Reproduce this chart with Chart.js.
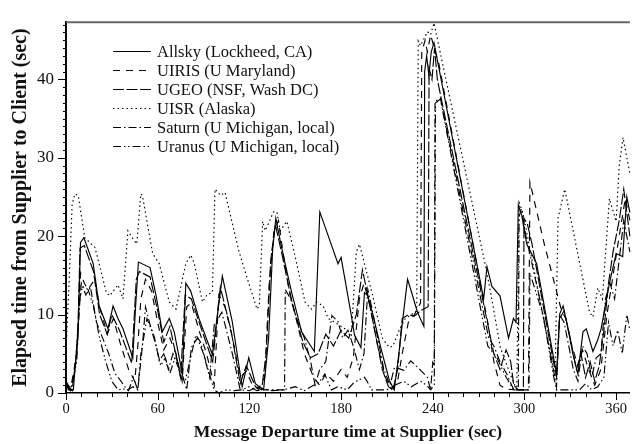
<!DOCTYPE html>
<html>
<head>
<meta charset="utf-8">
<script src="https://cdn.jsdelivr.net/npm/chart.js@4.4.0/dist/chart.umd.min.js"></script>
<style>
  html, body { margin: 0; padding: 0; background: #fff; }
</style>
</head>
<body>
<canvas id="myChart" width="634" height="444"></canvas>
<script>
// readings: [departure time (sec), elapsed time (sec)]
const allsky = [[0,1.6],[1.5,0.4],[4.8,0.4],[8,8.2],[9.5,19.2],[11.7,19.8],[17.8,16.5],[21.7,11.1],[27.5,8.2],[30.8,11.1],[34,9.5],[37.3,8.2],[43.7,4.5],[45.5,10.9],[47.4,16.7],[55,16],[59,12.4],[63,7.8],[67.6,9.5],[70.8,7.8],[76.2,2.4],[78.4,14],[81.6,13],[87,9.5],[95.8,4.9],[102.3,14.9],[108.8,9.1],[115.3,0.8],[119.6,4.5],[123.9,1.2],[129.3,0.4],[132.6,7],[135.2,18.2],[137.3,22.3],[140.2,19.4],[143.4,16.5],[147.7,12.8],[154.2,7.8],[162.5,5.3],[166.1,23.1],[178,16.5],[180,17.3],[186.7,9.9],[188.8,7.4],[193,5.8],[195.3,12.8],[197.5,12.4],[200.7,10.1],[206,5.8],[211.6,1.6],[214.8,0.4],[218,5.3],[220.2,9.1],[223.5,14.5],[225.6,13.2],[230,10.3],[234.2,8.5],[234.7,41],[236,43],[237.5,40.5],[239,43.5],[240.8,44.7],[273.3,12],[275.5,16.1],[278.7,13.6],[284,12.4],[289.6,7],[292.8,9.5],[294.5,9],[296,24],[298.2,22.7],[301.5,19],[308,16.5],[321,2.4],[323.1,10.1],[325.3,11.1],[328.5,8.2],[331.8,4.9],[335,2.4],[338.3,7.8],[340.5,8.2],[344.8,5.3],[348,6.8],[350.2,8.2],[355.6,14],[360,17.8],[364.3,17.4],[367,25],[369,23]];

const uiris = [[0,1],[3,0.5],[7,5],[9.5,15.3],[12,14],[14.5,13.2],[18.8,14.5],[22,11],[27,7.5],[31,9.5],[36,6],[41,3],[45,1.5],[47,6],[49,12],[52,14.5],[56,13],[60,9],[64,5.5],[68,7],[72,5],[76,1.5],[79,11],[82,11.5],[87,8],[92,5],[97,1],[100,12.5],[104,11],[109,7],[114,2],[118,2.8],[122,1],[126,0.5],[130,2],[133,14],[136,20.5],[139,22],[142,18],[146,13],[150,10],[156,5],[162,2],[166,1],[170,2.5],[175,1.5],[180,3],[184,2],[188,4.5],[192,12],[195,14],[199,11],[204,6],[209,2],[213,0.5],[217,1.5],[220,5],[224,9],[228,10],[232,11.5],[232.8,43.5],[235,45],[236.5,43.5],[238.6,45.7],[241,44],[244,42],[276,9],[280,4],[284,1],[288,0.5],[294,0.4],[302.6,0.4],[303.6,26.9],[313,19],[324,10.7],[327,9.5],[331,6],[335,3.5],[338,5.5],[342,3],[346,1],[350,3],[354,10],[358,15],[362,20],[366,24.8],[369,22]];

const ugeo = [[0,1.2],[4,0.3],[7.5,6],[9.2,18.5],[12,18.8],[18,15.5],[22,10],[27,7.5],[30,10],[35,8],[43,3.8],[46,14.5],[48,15.5],[55,14.8],[60,10.5],[64,6.5],[68,8.5],[75,2],[78,12.5],[82,12],[88,8.5],[96,4],[101,13.5],[108,8],[114,1.2],[118,3.5],[124,0.8],[128,0.4],[131,5],[134,17],[137,21.5],[141,18],[148,11.5],[155,6.5],[160,4.5],[165,5],[170,7.5],[175,6],[180,8],[185,7],[190,10],[194,15.7],[198,12],[202,8],[207,3],[211,0.8],[214,0.4],[217,3],[220,9.5],[224,10],[228,9.8],[232,10.5],[237,11],[237.6,41.4],[239.5,40],[241.2,44],[243,40],[276.6,8.2],[280,5],[284,3],[288,5.5],[291,4],[293,1],[296,0.4],[299.3,0.4],[299.7,22.3],[302,21.5],[305,19],[318,5],[321,2],[323,9.5],[326,10.5],[330,7],[334,3],[337,5],[340,2],[343,4],[346,1.5],[349,3.5],[352,8],[355,14],[358,18],[362,22],[365,26],[369,20]];

const uisr = [[0,5.5],[2,14],[4,24],[5.8,25.4],[8,25.2],[12.3,19.8],[18.8,18.6],[20,17.8],[26.4,12.8],[28.6,12.4],[34,13.8],[37.3,12],[40.5,20.7],[42.7,20],[46.3,19],[49,25.4],[50,25.2],[56.7,17.8],[61,16.5],[67.6,11.6],[72,10.7],[78.4,16.5],[81.7,17.6],[84,16.5],[89.3,11.6],[92.5,12.6],[95.8,12.8],[97.5,26],[101.2,25.2],[104,25.6],[105.5,24.4],[113,18.2],[119.6,14],[125,10.7],[126.5,11.2],[128.7,21.9],[130.4,20.7],[135.8,23.1],[138,23.1],[140.2,20.7],[144.5,21.9],[150,17.4],[156.4,11.6],[160.7,10.7],[164,11.6],[168.3,11.1],[171.6,9.5],[176,9],[180,8.5],[184,8],[186.7,7.4],[190,18],[192,19],[195.3,16.5],[200.7,12.4],[207,7],[211.6,5.8],[214,6],[218,8],[222,9.5],[226,10],[229.5,10.5],[230.5,44.9],[232,44.3],[236.5,46.1],[238.6,45.7],[240.8,47.2],[275.5,15.3],[279.8,10.7],[284.2,5.8],[290.7,2.4],[295,0.4],[296.5,24.3],[299,23],[320,2],[322,22.3],[326.4,26],[342.6,10.3],[344.8,9.7],[348,13.4],[351,12],[355.6,24.8],[360,21.9],[362,28.9],[364.5,32.6],[369,28]];

const saturn = [[0,1.5],[3,0.5],[6,3],[8,9],[10,14],[13,12.5],[16,13.5],[20,9],[24,7],[28,5],[32,2.5],[36,1.5],[40,0.4],[44,0.8],[47,0.4],[50,6],[52,11],[55,8.7],[58,7],[61,4.1],[64,5],[67,3],[70,5],[73,3.5],[76,2.4],[79,0.4],[82,5.8],[86,7],[90,5],[94,2],[97,8.7],[102,10.3],[105,8],[109,4.9],[114,0.4],[120,0.3],[125,0.8],[130,0.4],[135,0.4],[140,0.4],[143,0.4],[143.5,13.2],[147,12],[151,9.5],[156,7],[160,4.1],[163,1],[166,3],[170,4],[174,9.9],[178,9.1],[181,7],[184.5,8],[188,6],[192,3],[195,5],[197.5,13.2],[200,11],[204,7],[208,3],[212,1],[215,3.3],[221,2.9],[225.6,4.1],[230,3.3],[236.5,2],[238.6,0.4],[240,3.9],[241,3.5],[241.5,37.2],[245,37.6],[276.6,7],[280,6],[284,4],[288.5,2.4],[293,0.4],[296,0.4],[296.5,22.5],[298,23.5],[301,20],[310,12],[318,4],[321,0.8],[323,10],[326,9],[329,6],[332,3],[335,1.5],[338,6],[341,5],[344,2],[347,4.5],[350,5],[353,12],[356,14],[359,12],[362,17],[365,22],[369,18]];

const uranus = [[0,1],[3,0.3],[7,4],[9,12],[10.8,13.6],[14.5,13.2],[18,11],[22,7],[26,4],[30,1.5],[34,0.4],[38,0.5],[41,0.3],[44,2],[47,0.4],[49,5],[53,9.5],[56,8],[59,6],[62,3.5],[65,4.5],[68,2.5],[72,4.9],[75,2],[78,1.5],[81,4],[85,7.4],[88,6.5],[92.5,3.3],[96.9,0.4],[100,0],[105,0.4],[110,0.3],[115,0.4],[120,0.8],[125,0.3],[130,0.5],[135,0.3],[142.5,0.4],[150,0.8],[156,0.3],[162,1],[165,1.2],[169.3,2.4],[173.7,0.4],[178,0.8],[184,0.4],[188.8,1.4],[195.3,2],[197,1.5],[200,0.4],[210,0.4],[215,1],[221,1.5],[226,0.8],[232,1.5],[236,1],[238.6,0.4],[241,1],[241.8,37],[245,37.5],[276,6],[282,4.5],[288,2],[293,0.4],[303,0.4],[303.6,15.3],[312.3,9.9],[318.8,2.4],[321,0.4],[330,0.4],[336,0.4],[340,1.2],[344,0.4],[348,0.8],[352,2],[355,9],[358,6],[361,8],[364,5],[367,10],[369,8]];

const seriesNames = ['Allsky (Lockheed, CA)', 'UIRIS (U Maryland)', 'UGEO (NSF, Wash DC)', 'UISR (Alaska)', 'Saturn (U Michigan, local)', 'Uranus (U Michigan, local)'];
const seriesDash = [[], [7, 6], [11, 2.5], [1.5, 3], [8, 3, 1.5, 3], [8, 3, 1.5, 2.5, 1.5, 3]];
const xTicks = [0, 60, 120, 180, 240, 300, 360];
const yTicks = [0, 10, 20, 30, 40];
const xMax = 369, yMax = 47.3;

const serif = '"Liberation Serif", "Times New Roman", serif';

const toPoints = arr => arr.map(p => ({x: p[0], y: p[1]}));

const datasets = [allsky, uiris, ugeo, uisr, saturn, uranus].map((arr, i) => ({
    label: seriesNames[i],
    data: toPoints(arr),
    borderColor: '#000',
    borderWidth: 1.15,
    borderDash: seriesDash[i],
    pointRadius: 0,
    fill: false,
    tension: 0,
    clip: 2
}));

// minor ticks, top frame line and the inset legend
const extras = {
    id: 'extras',
    afterDraw(chart) {
        const {ctx, chartArea, scales} = chart;
        ctx.save();
        ctx.strokeStyle = '#000';
        ctx.lineWidth = 1;
        ctx.setLineDash([]);
        ctx.beginPath();
        for (let v = 0; v <= yMax; v += 1) {
            const py = Math.round(scales.y.getPixelForValue(v)) + 0.5;
            const len = yTicks.includes(v) ? 8 : 3;
            ctx.moveTo(chartArea.left - len, py);
            ctx.lineTo(chartArea.left, py);
        }
        for (let t = 0; t <= xMax; t += 10) {
            const px = Math.round(scales.x.getPixelForValue(t)) + 0.5;
            const len = xTicks.includes(t) ? 7 : 4;
            ctx.moveTo(px, chartArea.bottom);
            ctx.lineTo(px, chartArea.bottom + len);
        }
        ctx.stroke();

        ctx.strokeStyle = '#666';
        ctx.lineWidth = 2;
        ctx.beginPath();
        ctx.moveTo(chartArea.left, chartArea.top);
        ctx.lineTo(chartArea.right, chartArea.top);
        ctx.stroke();

        ctx.font = '16.5px ' + serif;
        ctx.fillStyle = '#111';
        ctx.textBaseline = 'middle';
        chart.data.datasets.forEach((ds, i) => {
            const yy = 51.5 + i * 19;
            ctx.strokeStyle = '#000';
            ctx.lineWidth = 1.15;
            ctx.setLineDash(ds.borderDash);
            ctx.beginPath();
            ctx.moveTo(113, yy);
            ctx.lineTo(151, yy);
            ctx.stroke();
            ctx.fillText(ds.label, 157, yy + 1);
        });
        ctx.restore();
    }
};

const config = {
    type: 'line',
    data: { datasets: datasets },
    options: {
        responsive: false,
        animation: false,
        devicePixelRatio: 1,
        layout: { padding: { top: 12, right: 0, left: 0, bottom: 0 } },
        plugins: { legend: { display: false }, tooltip: { enabled: false } },
        scales: {
            x: {
                type: 'linear',
                min: 0,
                max: xMax,
                afterFit: s => { s.height = 51; },
                grid: { display: false, drawTicks: false },
                border: { display: true, color: '#000', width: 1.5 },
                ticks: {
                    stepSize: 60,
                    includeBounds: false,
                    padding: 7,
                    color: '#111',
                    font: { family: serif, size: 14.5 },
                    maxRotation: 0,
                    callback: v => xTicks.includes(v) ? String(v) : ''
                },
                title: {
                    display: true,
                    text: 'Message Departure time at Supplier (sec)',
                    color: '#111',
                    font: { family: serif, size: 17.5, weight: 'bold' },
                    padding: { top: 0, bottom: 1 }
                }
            },
            y: {
                type: 'linear',
                min: 0,
                max: yMax,
                afterFit: s => { s.width = 66; },
                grid: { display: false, drawTicks: false },
                border: { display: true, color: '#000', width: 2 },
                ticks: {
                    stepSize: 10,
                    includeBounds: false,
                    padding: 12,
                    color: '#111',
                    font: { family: serif, size: 17 },
                    callback: v => yTicks.includes(v) ? String(v) : ''
                },
                title: {
                    display: true,
                    text: 'Elapsed time from Supplier to Client (sec)',
                    color: '#111',
                    font: { family: serif, size: 20, weight: 'bold' },
                    padding: { top: 9, bottom: 0 }
                }
            }
        }
    },
    plugins: [extras]
};

const chart = new Chart(document.getElementById('myChart'), config);
</script>
</body>
</html>
